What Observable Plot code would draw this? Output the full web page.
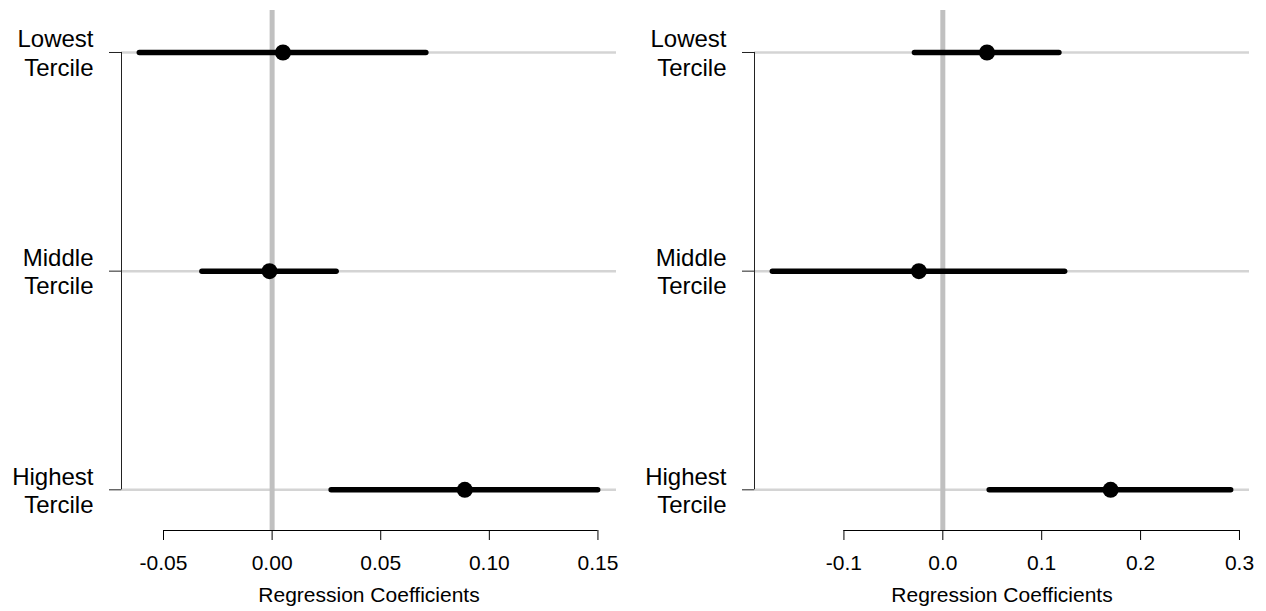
<!DOCTYPE html>
<html>
<head>
<meta charset="utf-8">
<script src="https://cdn.jsdelivr.net/npm/d3@7"></script>
<script src="https://cdn.jsdelivr.net/npm/@observablehq/plot@0.6"></script>
<style>
  html, body { margin: 0; padding: 0; background: #fff; }
  #wrap { display: flex; flex-direction: row; width: 1266px; height: 611px; }
  svg { font-family: "Liberation Sans", Arial, Helvetica, sans-serif; }
</style>
</head>
<body>
<div id="wrap"></div>
<script>
// ---- data ----
const categories = ["Lowest\nTercile", "Middle\nTercile", "Highest\nTercile"];
const positions = [1, 2, 3];

const leftEst = [0.0050, -0.0012, 0.0887];
const leftLo  = [-0.0609, -0.0321, 0.0274];
const leftHi  = [0.0710, 0.0297, 0.1501];
const leftTicks = [-0.05, 0.00, 0.05, 0.10, 0.15];
const leftTickLabels = ["-0.05", "0.00", "0.05", "0.10", "0.15"];

const rightEst = [0.0447, -0.0242, 0.1697];
const rightLo  = [-0.0282, -0.1719, 0.0474];
const rightHi  = [0.1179, 0.1237, 0.2916];
const rightTicks = [-0.1, 0.0, 0.1, 0.2, 0.3];
const rightTickLabels = ["-0.1", "0.0", "0.1", "0.2", "0.3"];

const axisTitle = "Regression Coefficients";

// ---- drawing ----
const FONT = "Liberation Sans, Arial, Helvetica, sans-serif";
const Y_DOMAIN = [0.808, 3.186];

function panel(est, lo, hi, ticks, tickLabels) {
  const rows = positions.map((p, i) => ({pos: p, cat: categories[i], est: est[i], lo: lo[i], hi: hi[i]}));
  const mn = d3.min(lo), mx = d3.max(hi);
  const pad = (mx - mn) * 0.04;
  const xDomain = [mn - pad, mx + pad];
  return Plot.plot({
    width: 633,
    height: 611,
    marginLeft: 121,
    marginRight: 17,
    marginTop: 10,
    marginBottom: 81,
    style: {fontFamily: FONT, color: "#000", background: "#fff"},
    x: {domain: xDomain},
    y: {domain: Y_DOMAIN, reverse: true},
    marks: [
      Plot.ruleY(rows, {y: "pos", stroke: "#d4d4d4", strokeWidth: 2.5}),
      Plot.ruleX([0], {stroke: "#c0c0c0", strokeWidth: 5}),
      Plot.ruleX([{x: xDomain[0]}], {x: "x", y1: positions[0], y2: positions[positions.length - 1], stroke: "#222", strokeWidth: 1}),
      Plot.axisY({ticks: positions, tickSize: 12, tickFormat: () => "", label: null, stroke: "#222"}),
      Plot.text(rows, {y: "pos", text: "cat", frameAnchor: "left", dx: -28, textAnchor: "end", lineHeight: 1.17, fontSize: 24, fill: "#000"}),
      Plot.ruleY([{y: Y_DOMAIN[1], x1: ticks[0], x2: ticks[ticks.length - 1]}], {y: "y", x1: "x1", x2: "x2", stroke: "#000", strokeWidth: 1}),
      Plot.axisX({ticks: ticks, tickSize: 10, tickPadding: 15, fontSize: 21, label: null,
                  tickFormat: (d) => tickLabels[ticks.indexOf(d)], stroke: "#000", fill: "#000"}),
      Plot.text([axisTitle], {frameAnchor: "bottom", dy: 71, fontSize: 21, fill: "#000"}),
      Plot.ruleY(rows, {y: "pos", x1: "lo", x2: "hi", stroke: "#000", strokeWidth: 5.5, strokeLinecap: "round"}),
      Plot.dot(rows, {x: "est", y: "pos", r: 8, fill: "#000", stroke: null})
    ]
  });
}

const wrap = document.getElementById("wrap");
wrap.appendChild(panel(leftEst, leftLo, leftHi, leftTicks, leftTickLabels));
wrap.appendChild(panel(rightEst, rightLo, rightHi, rightTicks, rightTickLabels));
</script>
</body>
</html>
